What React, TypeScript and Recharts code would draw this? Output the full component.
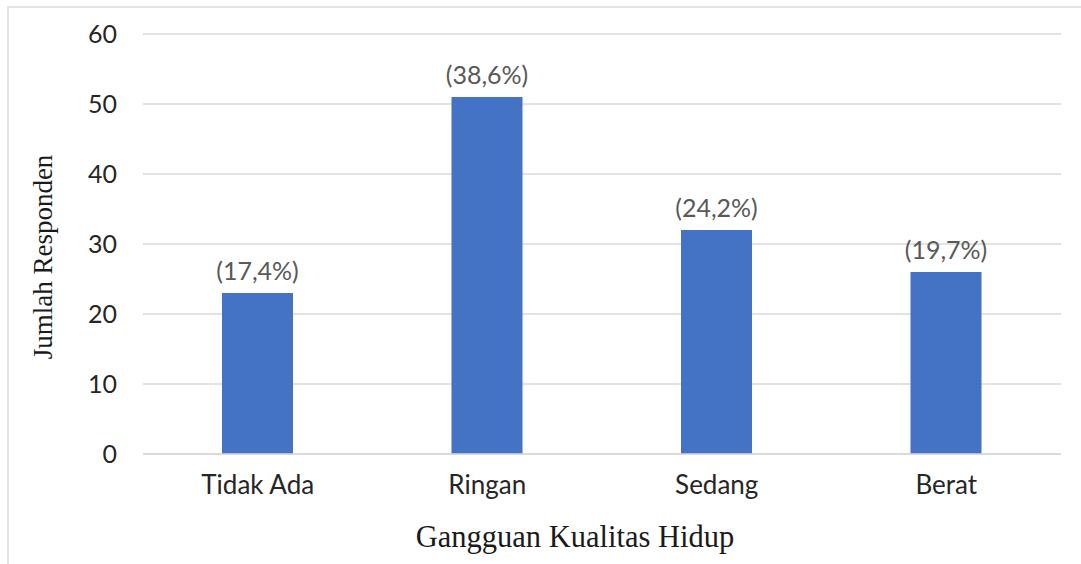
import { BarChart, Bar, XAxis, YAxis, CartesianGrid, LabelList, Label } from "recharts"

const categories = ["Tidak Ada", "Ringan", "Sedang", "Berat"]
const respondents = [23, 51, 32, 26]
const percentLabels = ["(17,4%)", "(38,6%)", "(24,2%)", "(19,7%)"]
const yTicks = [0, 10, 20, 30, 40, 50, 60]

const data = categories.map((name, i) => ({
  name,
  value: respondents[i],
  pct: percentLabels[i],
}))

const sans = "Lato, 'Open Sans', sans-serif"
const serif = "'Liberation Serif', 'DejaVu Serif', serif"

export default function App() {
  return (
    <div style={{ position: "relative", width: 1081, height: 564, overflow: "hidden", background: "#fff" }}>
      <style>{"body{margin:0}"}</style>
      {/* thin frame of the original figure, only top and left visible */}
      <div
        style={{
          position: "absolute",
          left: 7,
          top: 6,
          width: 1200,
          height: 700,
          border: "2px solid #e4e4e4",
        }}
      />
      <div style={{ position: "absolute", left: 0, top: 0 }}>
        <BarChart width={1081} height={564} data={data} margin={{ top: 34, right: 20, bottom: 0, left: 0 }}>
          <CartesianGrid vertical={false} stroke="#d9d9d9" strokeWidth={1.5} />
          <XAxis
            dataKey="name"
            height={110}
            axisLine={{ stroke: "#d9d9d9", strokeWidth: 1.5 }}
            tickLine={false}
            tickMargin={16}
            tick={{ fill: "#262626", fontSize: 26, fontFamily: sans }}
          >
            <Label
              content={() => (
                <text x={575} y={537} textAnchor="middle" dominantBaseline="central" fontFamily={serif} fontSize={30.5} fill="#1a1a1a">
                  Gangguan Kualitas Hidup
                </text>
              )}
            />
          </XAxis>
          <YAxis
            width={143}
            domain={[0, 60]}
            ticks={yTicks}
            axisLine={false}
            tickLine={false}
            tickMargin={20}
            tick={{ fill: "#262626", fontSize: 25, fontFamily: sans }}
          >
            <Label
              content={() => (
                <text
                  x={43}
                  y={257}
                  transform="rotate(-90, 43, 257)"
                  textAnchor="middle"
                  dominantBaseline="central"
                  fontFamily={serif}
                  fontSize={27}
                  fill="#1a1a1a"
                >
                  Jumlah Responden
                </text>
              )}
            />
          </YAxis>
          <Bar dataKey="value" fill="#4472c4" barSize={71} isAnimationActive={false}>
            <LabelList dataKey="pct" position="top" offset={13} fill="#595959" fontSize={25} fontFamily={sans} />
          </Bar>
        </BarChart>
      </div>
    </div>
  )
}
